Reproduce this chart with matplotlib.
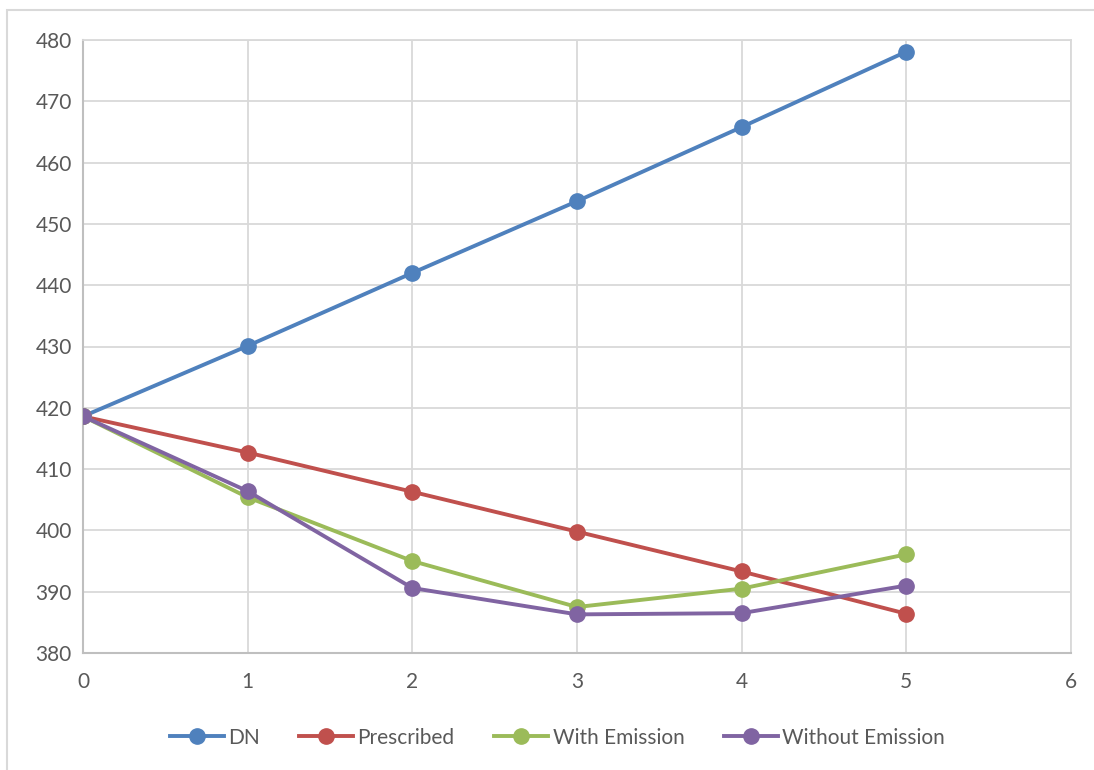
import matplotlib.pyplot as plt
from matplotlib.patches import Rectangle

years = [0, 1, 2, 3, 4, 5]
dn = [418.6, 430.1, 442.0, 453.7, 465.8, 478.1]
prescribed = [418.6, 412.7, 406.3, 399.8, 393.3, 386.4]
with_emission = [418.6, 405.4, 395.0, 387.5, 390.5, 396.1]
without_emission = [418.6, 406.4, 390.6, 386.3, 386.5, 391.0]

series = [
    ("DN", dn, "#4F81BD"),
    ("Prescribed", prescribed, "#C0504D"),
    ("With Emission", with_emission, "#9BBB59"),
    ("Without Emission", without_emission, "#8064A2"),
]

plt.rcParams['font.family'] = ['Lato', 'DejaVu Sans']

fig = plt.figure(figsize=(10.94, 7.7), dpi=100)
fig.patches.append(Rectangle((7 / 1094, -0.01), 1.1, 1 - 10 / 770 + 0.01,
                             transform=fig.transFigure, fill=False,
                             edgecolor="#D9D9D9", linewidth=1.5))
ax = fig.add_axes([83 / 1094, 1 - 653 / 770, (1071 - 83) / 1094, (653 - 40) / 770])

for name, vals, color in series:
    ax.plot(years, vals, color=color, linewidth=2.8, marker='o',
            markersize=11, label=name, zorder=3)

ax.set_xlim(0, 6)
ax.set_ylim(380, 480)
ax.set_xticks(range(0, 7))
ax.set_yticks(range(380, 481, 10))
ax.grid(True, color="#D9D9D9", linewidth=1.3)
ax.set_axisbelow(True)
ax.tick_params(length=0, labelsize=15, colors="#595959", pad=14)
ax.tick_params(axis='y', pad=8)
for side in ['top', 'right']:
    ax.spines[side].set_color("#D9D9D9")
    ax.spines[side].set_linewidth(1.3)
for side in ['left', 'bottom']:
    ax.spines[side].set_color("#BFBFBF")
    ax.spines[side].set_linewidth(1.5)

ax.legend(loc='center', bbox_to_anchor=(0.48, -0.138), ncol=4, frameon=False,
          fontsize=15, labelcolor="#595959", handlelength=2.6,
          handletextpad=0.2, columnspacing=1.9)

fig.savefig("out.png", dpi=100)
